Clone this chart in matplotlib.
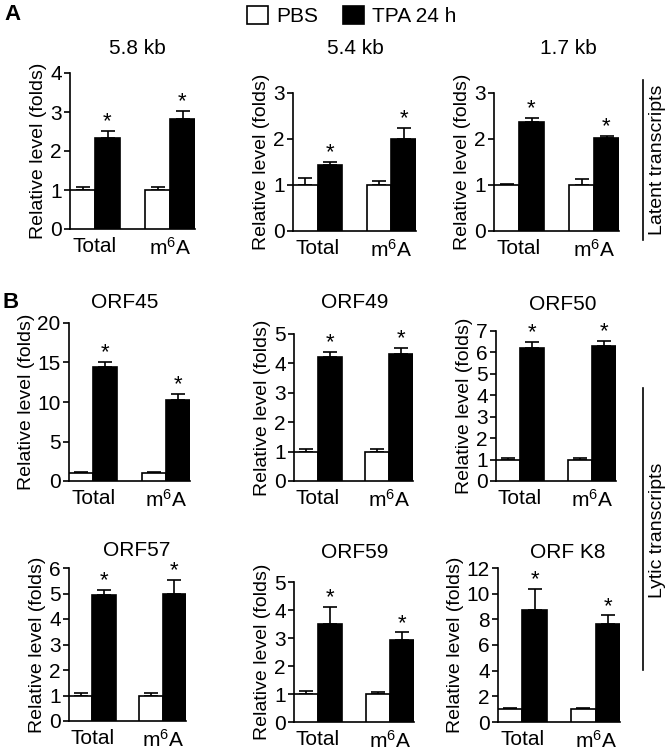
import numpy as np
import matplotlib
matplotlib.use("Agg")
import matplotlib.pyplot as plt

plt.rcParams['font.family'] = ['Liberation Sans', 'DejaVu Sans']
plt.rcParams['mathtext.default'] = 'regular'

# data
groups = ["Total", r"m$^{6}$A"]
series = ["PBS", "TPA 24 h"]

titles = ["5.8 kb", "5.4 kb", "1.7 kb",
          "ORF45", "ORF49", "ORF50",
          "ORF57", "ORF59", "ORF K8"]
pbs_vals = [[1.0, 1.0], [1.0, 1.0], [1.0, 1.0],
            [1.0, 1.0], [1.0, 1.0], [1.0, 1.0],
            [1.0, 1.0], [1.0, 1.0], [1.0, 1.0]]
pbs_err = [[0.08, 0.08], [0.15, 0.08], [0.02, 0.14],
           [0.1, 0.1], [0.1, 0.1], [0.08, 0.08],
           [0.1, 0.08], [0.1, 0.08], [0.1, 0.1]]
tpa_vals = [[2.33, 2.82], [1.43, 2.0], [2.36, 2.03],
            [14.4, 10.2], [4.22, 4.32], [6.2, 6.3],
            [4.95, 4.97], [3.51, 2.92], [8.75, 7.65]]
tpa_err = [[0.18, 0.21], [0.07, 0.24], [0.1, 0.03],
           [0.7, 0.85], [0.18, 0.2], [0.3, 0.22],
           [0.2, 0.57], [0.6, 0.28], [1.65, 0.65]]
yticks = [[0, 1, 2, 3, 4], [0, 1, 2, 3], [0, 1, 2, 3],
          [0, 5, 10, 15, 20], [0, 1, 2, 3, 4, 5], [0, 1, 2, 3, 4, 5, 6, 7],
          [0, 1, 2, 3, 4, 5, 6], [0, 1, 2, 3, 4, 5], [0, 2, 4, 6, 8, 10, 12]]

W, H = 666, 751
# axes boxes in pixels (x0, y0, x1, y1), y from top
boxes = [(70, 73, 195, 229), (293, 93, 416, 231), (494, 93, 619, 231),
         (69, 323, 190, 481), (294, 334, 413, 481), (496, 331, 616, 481),
         (69, 568, 186, 721), (294, 582, 414, 722), (498, 568, 620, 722)]
title_pos = [(137, 48), (355, 48), (568, 48),
             (125, 303), (355, 303), (563, 305),
             (137, 550), (355, 553), (568, 553)]

fig = plt.figure(figsize=(W / 100, H / 100), dpi=100)

handles = None
for k in range(9):
    x0, y0, x1, y1 = boxes[k]
    ax = fig.add_axes([x0 / W, 1 - y1 / H, (x1 - x0) / W, (y1 - y0) / H])
    xp = np.array([0.5, 3.5])
    xt = np.array([1.5, 4.5])
    b1 = ax.bar(xp, pbs_vals[k], width=1.0, color="white", edgecolor="black", linewidth=1.2, zorder=3)
    b2 = ax.bar(xt, tpa_vals[k], width=1.0, color="black", edgecolor="black", linewidth=1.2, zorder=3)
    if handles is None:
        handles = [b1, b2]
    ax.errorbar(xp, pbs_vals[k], yerr=[np.zeros(2), pbs_err[k]], fmt="none", ecolor="black",
                elinewidth=1.2, capsize=5, capthick=1.2, zorder=2)
    ax.errorbar(xt, tpa_vals[k], yerr=[np.zeros(2), tpa_err[k]], fmt="none", ecolor="black",
                elinewidth=1.2, capsize=5, capthick=1.2, zorder=2)
    for xx, v, e in zip(xt, tpa_vals[k], tpa_err[k]):
        ax.annotate("*", (xx, v + e), xytext=(0, -1), textcoords="offset points",
                    ha="center", va="bottom", fontsize=16, annotation_clip=False)
    ax.set_xlim(0, 5)
    ax.set_ylim(0, yticks[k][-1])
    ax.set_yticks(yticks[k])
    ax.set_xticks([1, 4])
    ax.set_xticklabels(groups)
    ax.tick_params(axis="x", length=0, pad=6, labelsize=15)
    ax.tick_params(axis="y", length=4, width=1.2, pad=2, labelsize=15)
    ax.spines["top"].set_visible(False)
    ax.spines["right"].set_visible(False)
    ax.spines["left"].set_linewidth(1.2)
    ax.spines["bottom"].set_linewidth(1.2)
    ax.set_ylabel("Relative level (folds)", fontsize=14, labelpad=2)
    tx, ty = title_pos[k]
    fig.text(tx / W, 1 - ty / H, titles[k], ha="center", va="center", fontsize=15)

fig.legend(handles, series, loc="center", bbox_to_anchor=(352 / W, 1 - 16 / H), ncol=2,
           frameon=False, fontsize=15, handlelength=1.0, handleheight=1.0,
           handletextpad=0.4, columnspacing=1.2)

fig.text(4 / W, 1 - 14 / H, "A", fontsize=16, fontweight="bold", ha="left", va="center")
fig.text(2 / W, 1 - 303 / H, "B", fontsize=16, fontweight="bold", ha="left", va="center")

# group brackets on the right
fig.add_artist(plt.Line2D([643 / W, 643 / W], [1 - 80 / H, 1 - 240 / H], color="black", lw=1.2))
fig.text(657 / W, 1 - 160 / H, "Latent transcripts", rotation=90, ha="center", va="center", fontsize=14)
fig.add_artist(plt.Line2D([643 / W, 643 / W], [1 - 388 / H, 1 - 670 / H], color="black", lw=1.2))
fig.text(657 / W, 1 - 530 / H, "Lytic transcripts", rotation=90, ha="center", va="center", fontsize=14)

fig.savefig("out.png", dpi=100)
